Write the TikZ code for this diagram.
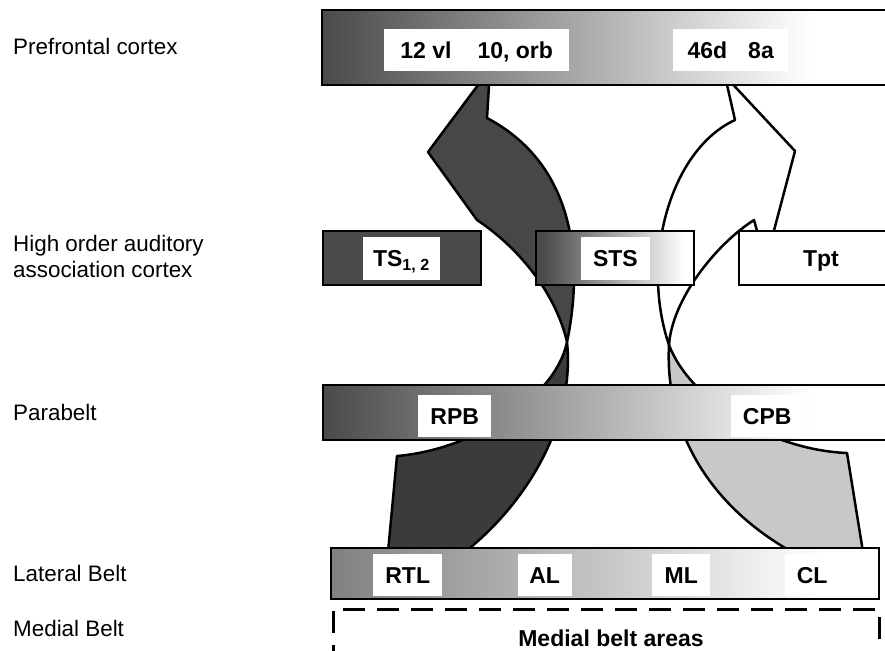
\documentclass[tikz,border=0pt]{standalone}
\usepackage{fontspec}
\setmainfont{Liberation Sans}

\definecolor{bardark}{RGB}{74,74,74}
\definecolor{frontdark}{RGB}{71,71,71}
\definecolor{backdark}{RGB}{59,59,59}
\definecolor{backgray}{RGB}{200,200,200}
\definecolor{beltgray}{RGB}{128,128,128}

\pgfdeclarehorizontalshading{darkfade}{100bp}{color(0bp)=(bardark); color(25bp)=(bardark);
    color(68bp)=(white); color(100bp)=(white)}
\pgfdeclarehorizontalshading{grayfade}{100bp}{color(0bp)=(beltgray); color(25bp)=(beltgray);
    color(70bp)=(white); color(100bp)=(white)}
\pgfdeclarehorizontalshading{stsfade}{100bp}{color(0bp)=(bardark); color(27bp)=(bardark);
    color(72bp)=(white); color(100bp)=(white)}

\begin{document}
\begin{tikzpicture}[x=1pt, y=-1pt,
        region/.style={draw, line width=2pt, rectangle, inner sep=0pt, outer sep=0pt, anchor=north west},
        fade/.style={shading=#1, shading angle=0}, fade/.default=darkfade,
        tag/.style={fill=white, inner sep=0pt, anchor=north west, minimum height=42.5pt,
            text height=16.5pt, text depth=0pt, font=\bfseries\fontsize{23}{23}\selectfont},
        area/.style={anchor=base west, align=left, inner sep=0pt, font=\fontsize{22.4}{26}\selectfont},
        ribbon/.style={draw, line width=2.5pt, line join=round},
    ]
    \useasboundingbox (0,0) rectangle (885,650);
    \clip (0,0) rectangle (885,650);

    % ribbons: rostral stream (dark) and caudal stream (light)
    \filldraw[ribbon, fill=backdark] (567,342) .. controls (555,400) and (470,450) .. (397,456)
        -- (388,552) -- (465,552) .. controls (530,500) and (575,420) .. (567,342) -- cycle;
    \filldraw[ribbon, fill=frontdark] (490,69) -- (428,152) -- (477,220)
        .. controls (515,245) and (555,290) .. (567,342)
        .. controls (580,280) and (585,170) .. (487,118) -- cycle;
    \filldraw[ribbon, fill=backgray] (669,345) .. controls (690,400) and (770,450) .. (847,453)
        -- (863,552) -- (792,552) .. controls (700,500) and (665,420) .. (669,345) -- cycle;
    \filldraw[ribbon, fill=white] (725,76) -- (735,120)
        .. controls (670,150) and (640,260) .. (669,345)
        .. controls (672,300) and (715,245) .. (754,220)
        -- (759,238) -- (772,238) -- (795,151) -- cycle;

    % areas
    \node[region, fade, minimum width=568pt, minimum height=75pt] (pfc) at (322,10) {};
    \node[region, fill=bardark, minimum width=158pt, minimum height=54pt] (ts) at (323,231) {};
    \node[region, fade=stsfade, minimum width=158pt, minimum height=54pt] (sts) at (536,231) {};
    \node[region, fill=white, minimum width=164pt, minimum height=54pt,
        font=\bfseries\fontsize{23}{23}\selectfont, text height=16.5pt, text depth=0pt] (tpt) at (739,231) {Tpt};
    \node[region, fade, minimum width=567pt, minimum height=55pt] (pb) at (323,385) {};
    \node[region, fade=grayfade, minimum width=548pt, minimum height=51pt] (lb) at (331,548) {};
    \node[region, draw=none, minimum width=546pt, minimum height=58pt,
        font=\bfseries\fontsize{23}{23}\selectfont, text height=16.5pt, text depth=0pt] (mb) at (333,609) {\hspace{10pt}Medial belt areas};
    \draw[line width=3pt, dash pattern=on 22pt off 12pt] (mb.south west) -- (mb.north west) -- (mb.north east) -- (mb.south east);

    % labels
    \node[tag, minimum width=185pt] (t12) at (384,28.5) {12 vl\hspace{26pt}10, orb};
    \node[tag, minimum width=115pt] (t46) at (673,28.5) {46d\hspace{21pt}8a};
    \node[tag, minimum width=77.5pt] (tts) at (362.5,237) {TS\textsubscript{1, 2}};
    \node[tag, minimum width=69.5pt] (tsts) at (580.5,237) {STS};
    \node[tag, minimum width=73pt] (trpb) at (418,394.5) {RPB};
    \node[tag, minimum width=72pt] (tcpb) at (731,394.5) {CPB};
    \node[tag, minimum width=69pt] (trtl) at (373,553.5) {RTL};
    \node[tag, minimum width=54pt] (tal) at (517.5,553.5) {AL};
    \node[tag, minimum width=58pt] (tml) at (652,553.5) {ML};
    \node[tag, minimum width=54pt] (tcl) at (785,553.5) {CL};

    \node[area] (lpfc) at (13,55) {Prefrontal cortex};
    \node[area] (lhoa) at (13,277) {High order auditory\\association cortex};
    \node[area] (lpb) at (13,420) {Parabelt};
    \node[area] (llb) at (13,581) {Lateral Belt};
    \node[area] (lmb) at (13,636) {Medial Belt};
\end{tikzpicture}
\end{document}
